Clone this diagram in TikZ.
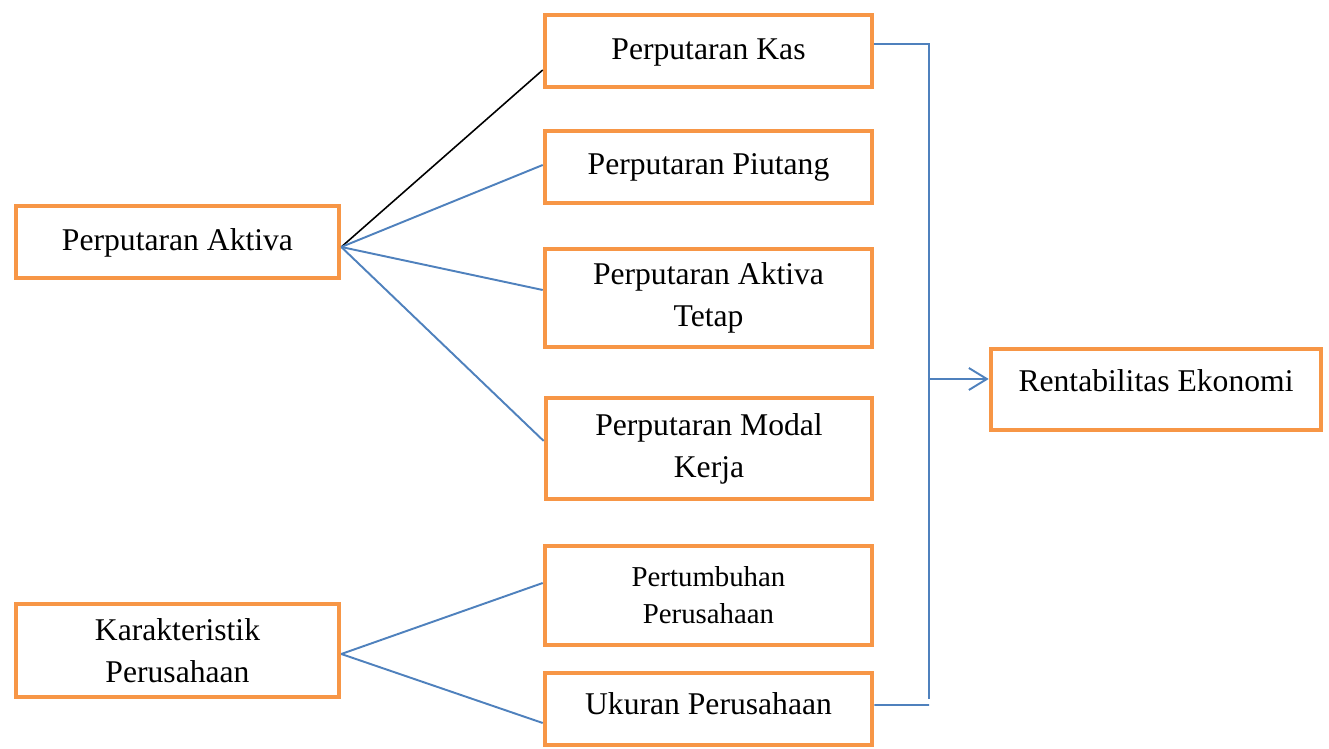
\documentclass[tikz,border=0pt]{standalone}
\usepackage{fontspec}
\setmainfont{Liberation Serif}
\usetikzlibrary{arrows.meta}

\definecolor{boxorange}{HTML}{F79646}
\definecolor{linkblue}{HTML}{4F81BD}

\tikzset{
    box/.style={draw=boxorange,line width=2.6pt,minimum width=6.54cm,minimum height=1.44cm,align=center,inner sep=1pt,font=\fontsize{18}{24}\selectfont},
    link/.style={draw=linkblue,line width=1.1pt}
}

\begin{document}
\begin{tikzpicture}[>={Straight Barb[length=3.6mm,width=4.4mm]}]
        \useasboundingbox (0,0) rectangle (26.58,14.98);
        % left side
        \node[box,minimum width=6.46cm,text depth=0.08cm] (aktiva) at (3.55,10.14){Perputaran Aktiva};
        \node[box,minimum width=6.46cm,minimum height=1.86cm] (karakteristik) at (3.55,1.97){Karakteristik\\Perusahaan};
        % middle column
        \node[box,text depth=0.08cm] (kas) at (14.17,13.96){Perputaran Kas};
        \node[box] (piutang) at (14.17,11.64){Perputaran Piutang};
        \node[box,minimum height=1.96cm] (tetap) at (14.17,9.02){Perputaran Aktiva\\Tetap};
        \node[box,minimum width=6.52cm,minimum height=2.02cm] (modal) at (14.18,6.01){Perputaran Modal\\Kerja};
        \node[box,minimum height=1.98cm,font=\fontsize{16.4}{21}\selectfont] (tumbuh) at (14.17,3.07){Pertumbuhan\\Perusahaan};
        \node[box,text depth=0.2cm] (ukuran) at (14.17,0.8){Ukuran Perusahaan};
        % right side
        \node[box,minimum width=6.6cm,minimum height=1.62cm,text depth=0.36cm] (rentabilitas) at (23.12,7.19){Rentabilitas Ekonomi};
        % fans
        \coordinate (fanA) at ([yshift=-1mm]aktiva.east);
        \coordinate (fanB) at ([yshift=-0.7mm]karakteristik.east);
        \draw[line width=0.9pt] (fanA)--([yshift=-3.8mm]kas.west);
        \foreach \t/\s in {piutang/0.4mm,tetap/1.6mm,modal/1.5mm}
        {
            \draw[link] (fanA)--([yshift=\s]\t.west);
        }
        \foreach \t/\s in {tumbuh/2.5mm,ukuran/-2.8mm}
        {
            \draw[link] (fanB)--([yshift=\s]\t.west);
        }
        % bracket to result
        \coordinate (railtop) at (18.58,14.1);
        \coordinate (railbot) at (18.58,1.0);
        \draw[link] ([yshift=1.4mm]kas.east)--(railtop)--(railbot);
        \draw[link] ([yshift=0.8mm]ukuran.east)--(18.58,0.88);
        \draw[link,->] (18.58,7.4)--([yshift=2.1mm]rentabilitas.west);
    \end{tikzpicture}
\end{document}
